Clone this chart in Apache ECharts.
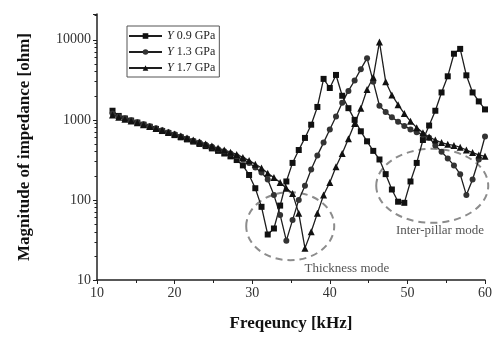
<!DOCTYPE html>
<html>
<head>
<meta charset="utf-8">
<script src="https://cdn.jsdelivr.net/npm/echarts@6/dist/echarts.min.js"></script>
<style>
html, body { margin: 0; padding: 0; background: #fff; }
#chart { width: 494px; height: 337px; }
</style>
</head>
<body>
<div id="chart"></div>
<script>
// frequency sweep [kHz]
const freq = [12, 12.8, 13.6, 14.4, 15.2, 16, 16.8, 17.6, 18.4, 19.2,
  20, 20.8, 21.6, 22.4, 23.2, 24, 24.8, 25.6, 26.4, 27.2,
  28, 28.8, 29.6, 30.4, 31.2, 32, 32.8, 33.6, 34.4, 35.2,
  36, 36.8, 37.6, 38.4, 39.2, 40, 40.8, 41.6, 42.4, 43.2,
  44, 44.8, 45.6, 46.4, 47.2, 48, 48.8, 49.6, 50.4, 51.2,
  52, 52.8, 53.6, 54.4, 55.2, 56, 56.8, 57.6, 58.4, 59.2, 60];

// |Z| [ohm]
const y09 = [1300, 1120, 1040, 980, 925, 870, 820, 770, 725, 685,
  645, 605, 570, 535, 500, 470, 440, 410, 380, 350,
  315, 270, 205, 140, 82, 37, 44, 85, 170, 290,
  420, 595, 870, 1450, 3250, 2500, 3640, 2000, 1400, 1000,
  720, 540, 410, 320, 210, 135, 95, 92, 170, 290,
  560, 850, 1300, 2200, 3500, 6700, 7700, 3600, 2200, 1700, 1350];
const y13 = [1200, 1100, 1050, 990, 935, 880, 830, 785, 740, 700,
  660, 620, 585, 550, 520, 490, 460, 430, 405, 380,
  350, 320, 290, 255, 220, 180, 115, 65, 31, 56,
  100, 150, 240, 360, 520, 760, 1100, 1640, 2300, 3100,
  4300, 5900, 3000, 1500, 1250, 1080, 950, 840, 760, 700,
  650, 600, 480, 400, 330, 270, 210, 115, 180, 320, 620];
const y17 = [1150, 1080, 1020, 970, 920, 870, 825, 780, 740, 700,
  665, 630, 595, 560, 530, 500, 470, 445, 420, 395,
  370, 340, 310, 280, 250, 215, 190, 165, 140, 120,
  68, 25, 40, 68, 115, 165, 260, 380, 580, 900,
  1400, 2400, 3400, 9400, 3000, 2050, 1550, 1200, 960, 800,
  690, 610, 560, 520, 495, 480, 455, 420, 390, 365, 350];

const seriesNames = ['Y 0.9 GPa', 'Y 1.3 GPa', 'Y 1.7 GPa'];
const majorY = [10, 100, 1000, 10000];
const minorY = [20, 30, 40, 50, 60, 70, 80, 90, 200, 300, 400, 500, 600, 700, 800, 900,
  2000, 3000, 4000, 5000, 6000, 7000, 8000, 9000, 20000];

const serif = '"Liberation Serif", "DejaVu Serif", serif';
const yMax = 21000;

const chart = echarts.init(document.getElementById('chart'));

function mk(name, vals, symbol, size, color) {
  return {
    name: name,
    type: 'line',
    data: freq.map((f, i) => [f, vals[i]]),
    symbol: symbol,
    symbolSize: size,
    showSymbol: true,
    lineStyle: { color: '#1e1e1e', width: 1.3 },
    itemStyle: { color: color },
    animation: false
  };
}

chart.setOption({
  animation: false,
  textStyle: { fontFamily: serif },
  grid: { left: 97, right: 9, top: 14, bottom: 57, outerBoundsMode: 'none' },
  legend: {
    left: 127, top: 26,
    orient: 'vertical',
    itemWidth: 33, itemHeight: 7, itemGap: 2,
    padding: [3, 4, 2, 1],
    borderColor: '#555', borderWidth: 1,
    textStyle: { fontFamily: serif, fontSize: 12, color: '#222', lineHeight: 14,
      rich: { i: { fontStyle: 'italic', fontFamily: serif, fontSize: 12, color: '#222' } } },
    formatter: n => '{i|Y}' + n.slice(1),
    data: seriesNames
  },
  xAxis: {
    type: 'value', min: 10, max: 60, interval: 10,
    name: 'Freqeuncy [kHz]', nameLocation: 'middle', nameGap: 35,
    nameTextStyle: { fontFamily: serif, fontSize: 17, fontWeight: 'bold', color: '#111' },
    axisLine: { lineStyle: { color: '#222', width: 1.5 } },
    axisTick: { length: 4, lineStyle: { color: '#222' } },
    minorTick: { show: true, splitNumber: 2, length: 3, lineStyle: { color: '#222' } },
    axisLabel: { fontFamily: serif, fontSize: 14, color: '#333', margin: 6 },
    splitLine: { show: false }
  },
  yAxis: [{
    type: 'log', min: 10, max: yMax, logBase: 10,
    name: 'Magnitude of impedance [ohm]', nameLocation: 'middle', nameGap: 64,
    nameTextStyle: { fontFamily: serif, fontSize: 17, fontWeight: 'bold', color: '#111' },
    axisLine: { show: true, lineStyle: { color: '#222', width: 1.5 } },
    axisTick: { show: true, length: 4, lineStyle: { color: '#222' } },
    axisLabel: { fontFamily: serif, fontSize: 14, color: '#333', margin: 6,
      formatter: v => majorY.indexOf(Math.round(v)) >= 0 ? String(Math.round(v)) : '' },
    splitLine: { show: false }
  }, {
    // minor ticks of the log axis, on a log10 value scale
    type: 'value', min: 1, max: Math.log10(yMax), position: 'left',
    axisLine: { show: false },
    axisTick: { show: true, length: 2.5, lineStyle: { color: '#222' },
      customValues: minorY.map(v => Math.log10(v)) },
    axisLabel: { show: false },
    splitLine: { show: false }
  }],
  series: [
    mk(seriesNames[0], y09, 'rect', 6, '#111'),
    mk(seriesNames[1], y13, 'circle', 6, '#333'),
    mk(seriesNames[2], y17, 'triangle', 7, '#111')
  ]
});

// dashed ellipses and mode labels, anchored in data space
const P = p => chart.convertToPixel({ gridIndex: 0 }, p);
const c1 = P([34.9, 47]), c2 = P([53.2, 150]);
const t1 = P([42.2, 13.7]), t2 = P([54.2, 42]);
const dash = { fill: 'none', stroke: '#8c8c8c', lineWidth: 2, lineDash: [7, 5] };
chart.setOption({
  graphic: [
    { type: 'ellipse', shape: { cx: c1[0], cy: c1[1], rx: 44, ry: 34 }, style: dash, z: 1 },
    { type: 'ellipse', shape: { cx: c2[0], cy: c2[1], rx: 56, ry: 37 }, style: dash, z: 1 },
    { type: 'text', x: t1[0], y: t1[1], style: { text: 'Thickness mode', font: '13px ' + serif,
      fill: '#555', textAlign: 'center', textVerticalAlign: 'middle' } },
    { type: 'text', x: t2[0], y: t2[1], style: { text: 'Inter-pillar mode', font: '13px ' + serif,
      fill: '#555', textAlign: 'center', textVerticalAlign: 'middle' } }
  ]
});
</script>
</body>
</html>
